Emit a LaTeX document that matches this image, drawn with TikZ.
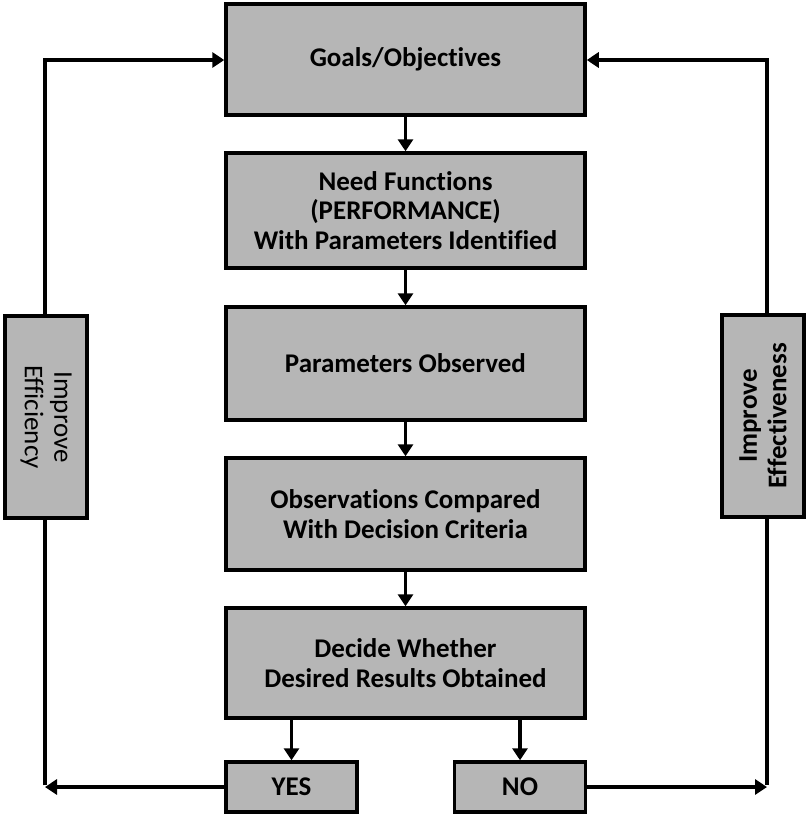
\documentclass[tikz,border=0pt]{standalone}
\usepackage{fontspec}
\setmainfont{Carlito}[Ligatures=NoCommon]
\usetikzlibrary{arrows.meta}
\begin{document}
\begin{tikzpicture}[x=1pt,y=-1pt,
  box/.style={draw=black, line width=3.5pt, fill=gray!50!white!95!black, align=center,
    font=\fontsize{27}{29.5}\selectfont\bfseries, inner sep=0pt},
  mainbox/.style={box, minimum width=359pt},
  smallbox/.style={box, minimum width=131pt, minimum height=50pt},
  sidebox/.style={box, minimum width=202pt, minimum height=82pt},
  flow/.style={line width=3.5pt, -{Triangle[length=12pt,width=15pt]}},
  wire/.style={line width=3.5pt}]
\useasboundingbox (0,0) rectangle (807,814);
% main chain
\node[mainbox, minimum height=111pt] (goals) at (405.5,59.5) {Goals/Objectives};
\node[mainbox, minimum height=115pt] (need) at (405.5,210.5) {Need Functions\\(PERFORMANCE)\\With Parameters Identified};
\node[mainbox, minimum height=113pt] (param) at (405.5,363.5) {Parameters Observed};
\node[mainbox, minimum height=112pt] (obs) at (405.5,514) {Observations Compared\\With Decision Criteria};
\node[mainbox, minimum height=110pt] (decide) at (405.5,663) {Decide Whether\\Desired Results Obtained};
\node[smallbox] (yes) at (291.5,787) {YES};
\node[smallbox] (no) at (520,787) {NO};
% feedback boxes (rotated: west/east lie at the top/bottom ends)
\node[sidebox, rotate=-90, font=\fontsize{27}{29.5}\selectfont] (eff) at (46,417) {Improve\\Efficiency};
\node[sidebox, rotate=90] (effv) at (763,416) {Improve\\Effectiveness};
% downward arrows
\draw[flow] (goals) -- (need);
\draw[flow] (need) -- (param);
\draw[flow] (param) -- (obs);
\draw[flow] (obs) -- (decide);
\draw[flow] (decide.south -| yes) -- (yes);
\draw[flow] (decide.south -| no) -- (no);
% feedback loops
\coordinate (yl) at (45,787);
\coordinate (nr) at (767,787);
\draw[flow] (yes) -- (yl);
\draw[wire] ([yshift=1.75pt]yl) -- (yl |- eff.east);
\draw[flow] (yl |- eff.west) |- (goals.west |- 0,60);
\draw[flow] (no) -- (nr);
\draw[wire] ([yshift=1.75pt]nr) -- (nr |- effv.west);
\draw[flow] (nr |- effv.east) |- (goals.east |- 0,60);
\end{tikzpicture}
\end{document}
